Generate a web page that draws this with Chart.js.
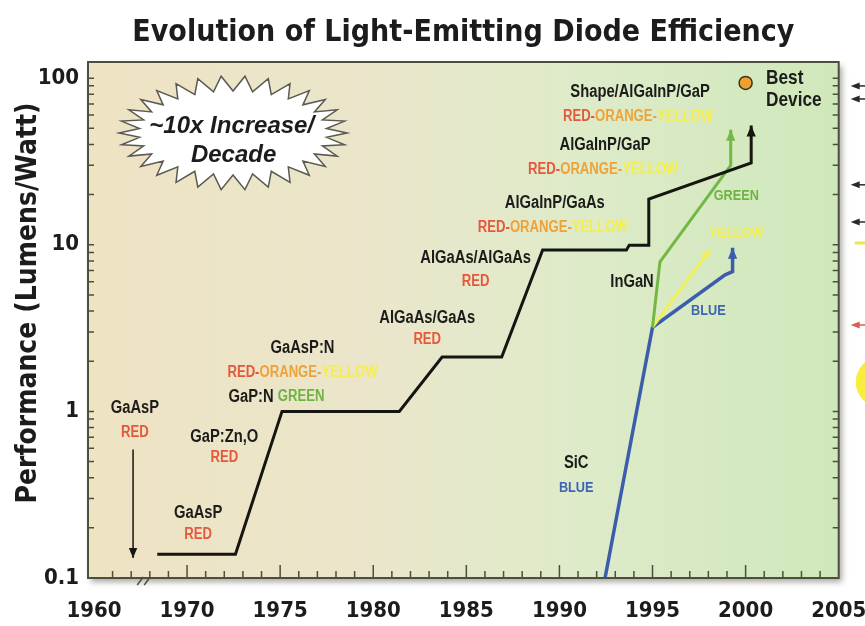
<!DOCTYPE html>
<html>
<head>
<meta charset="utf-8">
<title>Evolution of Light-Emitting Diode Efficiency</title>
<script src="https://cdn.jsdelivr.net/npm/chart.js@4.4.1/dist/chart.umd.min.js"></script>
<style>
  html, body { margin: 0; padding: 0; background: #ffffff; }
  canvas { display: block; }
</style>
</head>
<body>
<canvas id="ledChart" width="865" height="626"></canvas>
<script>
// values: year, lumens per watt
const redOrangeYears  = [1968.4, 1972.6, 1975.1, 1981.4, 1983.7, 1986.9, 1989.1, 1993.6, 1993.75, 1994.8, 1994.8, 2000.3, 2000.3];
const redOrangeValues = [0.139, 0.139, 1.0, 1.0, 2.12, 2.12, 9.3, 9.3, 9.95, 9.95, 18.8, 31, 52];

const greenYears  = [1995.0, 1995.4, 1999.2, 1999.2];
const greenValues = [3.2, 7.9, 30, 49];

const yellowYears  = [1995.0, 1998.1];
const yellowValues = [3.2, 9.4];

const blueYears  = [1992.45, 1995.0, 1998.9, 1999.3, 1999.3];
const blueValues = [0.1, 3.2, 6.6, 6.9, 9.6];

const firstLedYears  = [1962.1, 1962.1];
const firstLedValues = [0.59, 0.132];

const bestYears  = [2000.0];
const bestValues = [93.6];

const xLabelYears = [1960, 1970, 1975, 1980, 1985, 1990, 1995, 2000, 2005];
const yLabelValues = [0.1, 1, 10, 100];

// the axis is broken between 1962 and 1968
const BREAK_SHIFT = 5;
const axisYear = yr => yr < 1965 ? yr + BREAK_SHIFT : yr;

const xTickYears = [1961, 1962];
for (let yr = 1968; yr < 2005; yr++) xTickYears.push(yr);

const AXIS_FONT = "'DejaVu Sans Condensed', 'DejaVu Sans', sans-serif";
const NOTE_FONT = "'Liberation Sans', Arial, sans-serif";
const SQUEEZE = 0.82;   // Liberation Sans squeezed to look like a narrow face

const INK = '#1c1c1a', RED = '#e5583b', ORANGE = '#efa238', YELLOW = '#f5ee4c', GREEN = '#6db445', BLUE = '#3f64b2';
const ROY = [['RED-', RED], ['ORANGE-', ORANGE], ['YELLOW', YELLOW]];

const notes = [
  { at: [1962.2, 1.05], parts: [['GaAsP', INK]] },
  { at: [1962.2, 0.75], parts: [['RED', RED]], size: 16 },
  { at: [1972.0, 0.70], parts: [['GaP:Zn,O', INK]] },
  { at: [1972.0, 0.525], parts: [['RED', RED]], size: 16 },
  { at: [1970.6, 0.245], parts: [['GaAsP', INK]] },
  { at: [1970.6, 0.181], parts: [['RED', RED]], size: 16 },
  { at: [1976.2, 2.40], parts: [['GaAsP:N', INK]] },
  { at: [1976.2, 1.72], parts: ROY, size: 16 },
  { at: [1974.8, 1.22], parts: [['GaP:N ', INK], ['GREEN', GREEN, 16]] },
  { at: [1982.9, 3.64], parts: [['AlGaAs/GaAs', INK]] },
  { at: [1982.9, 2.68], parts: [['RED', RED]], size: 16 },
  { at: [1985.5, 8.33], parts: [['AlGaAs/AlGaAs', INK]] },
  { at: [1985.5, 5.98], parts: [['RED', RED]], size: 16 },
  { at: [1989.75, 17.8], parts: [['AlGaInP/GaAs', INK]] },
  { at: [1989.65, 12.6], parts: ROY, size: 16 },
  { at: [1992.45, 39.7], parts: [['AlGaInP/GaP', INK]] },
  { at: [1992.35, 28.1], parts: ROY, size: 16 },
  { at: [1994.33, 82.7], parts: [['Shape/AlGaInP/GaP', INK]] },
  { at: [1994.22, 58.5], parts: ROY, size: 16 },
  { at: [2001.1, 100.3], parts: [['Best', INK]], size: 21, align: 'left' },
  { at: [2001.1, 74.0], parts: [['Device', INK]], size: 21, align: 'left' },
  { at: [1993.9, 5.98], parts: [['InGaN', INK]] },
  { at: [1999.5, 19.6], parts: [['GREEN', GREEN]], size: 15.5 },
  { at: [1999.5, 11.8], parts: [['YELLOW', YELLOW]], size: 15.5 },
  { at: [1998.0, 4.0], parts: [['BLUE', BLUE]], size: 15.5 },
  { at: [1990.9, 0.49], parts: [['SiC', INK]] },
  { at: [1990.9, 0.347], parts: [['BLUE', BLUE]], size: 15.5 }
];

const burstAt = [1972.47, 46.9];
const burstText = [['~10x Increase/', 1972.4, 51.6], ['Decade', 1972.5, 34.6]];

// cut-off marks of the neighbouring figure, right of the frame
const sideMarks = [
  { value: 89.8, color: '#2a2a2a', shape: 'arrow' },
  { value: 75.0, color: '#2a2a2a', shape: 'arrow' },
  { value: 22.9, color: '#2a2a2a', shape: 'arrow' },
  { value: 13.7, color: '#2a2a2a', shape: 'arrow' },
  { value: 10.25, color: '#f0e64a', shape: 'dash' },
  { value: 3.3, color: '#d8604a', shape: 'arrow' },
  { value: 1.5, color: '#f6ee3a', shape: 'dot' }
];

const toPoints = (xs, ys) => xs.map((yr, i) => ({ x: axisYear(yr), y: ys[i] }));

function lineSet(label, xs, ys, color, width, arrowSize) {
    return {
        label: label,
        data: toPoints(xs, ys),
        borderColor: color,
        backgroundColor: color,
        borderWidth: width,
        pointRadius: 0,
        tension: 0,
        fill: false,
        arrowSize: arrowSize
    };
}

function narrowText(ctx, text, x, y) {
    ctx.save();
    ctx.translate(x, y);
    ctx.scale(SQUEEZE, 1);
    ctx.fillText(text, 0, 0);
    ctx.restore();
}

const ledDecor = {
    id: 'ledDecor',
    beforeDatasetsDraw(chart) {
        const { ctx, chartArea: a, scales: { x, y } } = chart;
        ctx.save();
        ctx.shadowColor = 'rgba(60,60,50,0.45)';
        ctx.shadowBlur = 6;
        ctx.shadowOffsetX = 3;
        ctx.shadowOffsetY = 4;
        const bg = ctx.createLinearGradient(a.left, 0, a.right, 0);
        bg.addColorStop(0, '#eee3c3');
        bg.addColorStop(0.4, '#eae6cb');
        bg.addColorStop(0.65, '#deebc9');
        bg.addColorStop(1, '#cfe8bb');
        ctx.fillStyle = bg;
        ctx.fillRect(a.left, a.top, a.width, a.height);
        ctx.restore();

        // starburst
        const cx = x.getPixelForValue(axisYear(burstAt[0]));
        const cy = y.getPixelForValue(burstAt[1]);
        const n = 30;
        ctx.save();
        ctx.beginPath();
        for (let k = 0; k < 2 * n; k++) {
            const t = Math.PI * k / n;
            const rx = k % 2 ? 94 : 114, ry = k % 2 ? 42 : 57;
            const px = cx + rx * Math.cos(t), py = cy + ry * Math.sin(t);
            if (k) ctx.lineTo(px, py); else ctx.moveTo(px, py);
        }
        ctx.closePath();
        ctx.fillStyle = '#ffffff';
        ctx.fill();
        ctx.strokeStyle = '#5a5a52';
        ctx.lineWidth = 1.5;
        ctx.stroke();
        ctx.restore();
    },
    afterDatasetsDraw(chart) {
        const { ctx, chartArea: a, scales: { x, y } } = chart;
        ctx.save();

        // arrow heads at the end of the lines
        chart.data.datasets.forEach((ds, i) => {
            if (!ds.arrowSize) return;
            const pts = chart.getDatasetMeta(i).data;
            const p = pts[pts.length - 1], q = pts[pts.length - 2];
            const ang = Math.atan2(p.y - q.y, p.x - q.x);
            const L = ds.arrowSize, W = ds.arrowSize * 0.42;
            const bx = p.x - L * Math.cos(ang), by = p.y - L * Math.sin(ang);
            ctx.fillStyle = ds.borderColor;
            ctx.beginPath();
            ctx.moveTo(p.x, p.y);
            ctx.lineTo(bx + W * Math.sin(ang), by - W * Math.cos(ang));
            ctx.lineTo(bx - W * Math.sin(ang), by + W * Math.cos(ang));
            ctx.closePath();
            ctx.fill();
        });

        // frame
        ctx.strokeStyle = '#4e4e3e';
        ctx.lineWidth = 2;
        ctx.strokeRect(a.left, a.top, a.width, a.height);

        // inward ticks
        ctx.lineWidth = 1.5;
        ctx.beginPath();
        xTickYears.forEach(yr => {
            const px = x.getPixelForValue(axisYear(yr));
            const len = yr % 5 === 0 ? 13 : 7;
            ctx.moveTo(px, a.bottom);
            ctx.lineTo(px, a.bottom - len);
        });
        [0.1, 1, 10, 100].forEach(d => {
            for (let k = 1; k <= 9; k++) {
                const v = d * k;
                if (v < 0.15 || v > 125) continue;
                const py = y.getPixelForValue(v);
                ctx.moveTo(a.left, py); ctx.lineTo(a.left + 6, py);
                ctx.moveTo(a.right, py); ctx.lineTo(a.right - 6, py);
            }
        });
        ctx.stroke();

        // axis break
        const bx = x.getPixelForValue(1967.7), by = a.bottom;
        ctx.beginPath();
        ctx.moveTo(bx - 7, by + 7); ctx.lineTo(bx - 1, by - 1);
        ctx.moveTo(bx, by + 7); ctx.lineTo(bx + 6, by - 1);
        ctx.stroke();

        // labels
        ctx.textBaseline = 'middle';
        ctx.textAlign = 'left';
        notes.forEach(nt => {
            const px = x.getPixelForValue(axisYear(nt.at[0]));
            const py = y.getPixelForValue(nt.at[1]);
            const base = nt.size || 18;
            const fonts = nt.parts.map(p => 'bold ' + (p[2] || base) + 'px ' + NOTE_FONT);
            let w = 0;
            const widths = nt.parts.map((p, i) => {
                ctx.font = fonts[i];
                const m = ctx.measureText(p[0]).width * SQUEEZE;
                w += m;
                return m;
            });
            let sx = nt.align === 'left' ? px : px - w / 2;
            nt.parts.forEach((p, i) => {
                ctx.font = fonts[i];
                ctx.fillStyle = p[1];
                narrowText(ctx, p[0], sx, py);
                sx += widths[i];
            });
        });

        ctx.textAlign = 'center';
        ctx.font = 'italic bold 24px ' + NOTE_FONT;
        ctx.fillStyle = INK;
        burstText.forEach(t => {
            ctx.fillText(t[0], x.getPixelForValue(axisYear(t[1])), y.getPixelForValue(t[2]));
        });

        // marks beyond the right edge
        sideMarks.forEach(m => {
            const py = y.getPixelForValue(m.value);
            const tip = a.right + 12;
            ctx.fillStyle = m.color;
            ctx.strokeStyle = m.color;
            if (m.shape === 'arrow') {
                ctx.lineWidth = 1.5;
                ctx.beginPath();
                ctx.moveTo(tip + 6, py); ctx.lineTo(865, py);
                ctx.stroke();
                ctx.beginPath();
                ctx.moveTo(tip, py); ctx.lineTo(tip + 9, py - 3.5); ctx.lineTo(tip + 9, py + 3.5);
                ctx.closePath();
                ctx.fill();
            } else if (m.shape === 'dash') {
                ctx.lineWidth = 3;
                ctx.beginPath();
                ctx.moveTo(tip + 4, py); ctx.lineTo(865, py);
                ctx.stroke();
            } else {
                ctx.beginPath();
                ctx.arc(a.right + 42, py, 25, 0, Math.PI * 2);
                ctx.fill();
            }
        });

        // y axis title, sitting a little above the middle of the frame
        ctx.save();
        ctx.translate(29, (a.top + a.bottom) / 2 - 17);
        ctx.rotate(-Math.PI / 2);
        ctx.textAlign = 'center';
        ctx.font = 'bold 28px ' + AXIS_FONT;
        ctx.fillStyle = INK;
        ctx.fillText('Performance (Lumens/Watt)', 0, 0);
        ctx.restore();

        ctx.restore();
    }
};

const ctx = document.getElementById('ledChart');

const ledChart = new Chart(ctx, {
    type: 'line',
    data: {
        datasets: [
            lineSet('Red-orange-yellow', redOrangeYears, redOrangeValues, '#151512', 3, 11),
            lineSet('InGaN green', greenYears, greenValues, '#73b843', 3, 11),
            lineSet('InGaN yellow', yellowYears, yellowValues, '#f1f05a', 3, 10),
            lineSet('Blue', blueYears, blueValues, '#3c5dab', 3.5, 11),
            lineSet('GaAsP red', firstLedYears, firstLedValues, '#151512', 1.5, 10),
            {
                label: 'Best device',
                data: toPoints(bestYears, bestValues),
                showLine: false,
                pointRadius: 6.5,
                pointBackgroundColor: '#f0a02c',
                pointBorderColor: '#3b3222',
                pointBorderWidth: 1.5
            }
        ]
    },
    options: {
        responsive: false,
        animation: false,
        devicePixelRatio: 1,
        layout: { padding: { left: 0, right: 26.3, top: 0, bottom: 0 } },
        scales: {
            x: {
                type: 'linear',
                min: 1964.68,
                max: 2005,
                afterBuildTicks: scale => {
                    scale.ticks = xLabelYears.map(yr => ({ value: axisYear(yr) }));
                },
                afterFit: scale => {
                    scale.height = 48;
                    scale.paddingLeft = 0;
                    scale.paddingRight = 0;
                },
                grid: { display: false },
                border: { display: false },
                ticks: {
                    autoSkip: false,
                    maxRotation: 0,
                    padding: 12,
                    color: INK,
                    font: { family: AXIS_FONT, size: 22, weight: 'bold' },
                    callback: (v, i) => String(xLabelYears[i])
                }
            },
            y: {
                type: 'logarithmic',
                min: 0.1,
                max: 125,
                afterBuildTicks: scale => {
                    scale.ticks = yLabelValues.map(v => ({ value: v }));
                },
                afterFit: scale => {
                    scale.width = 88;
                    scale.paddingTop = 0;
                    scale.paddingBottom = 0;
                },
                grid: { display: false },
                border: { display: false },
                ticks: {
                    padding: 1,
                    color: INK,
                    font: { family: AXIS_FONT, size: 22, weight: 'bold' },
                    callback: v => String(v)
                }
            }
        },
        plugins: {
            legend: { display: false },
            tooltip: { enabled: false },
            title: {
                display: true,
                fullSize: false,
                text: 'Evolution of Light-Emitting Diode Efficiency',
                color: INK,
                padding: { top: 15.5, bottom: 10.5 },
                font: { family: AXIS_FONT, size: 30, weight: 'bold' }
            }
        }
    },
    plugins: [ledDecor]
});
</script>
</body>
</html>
